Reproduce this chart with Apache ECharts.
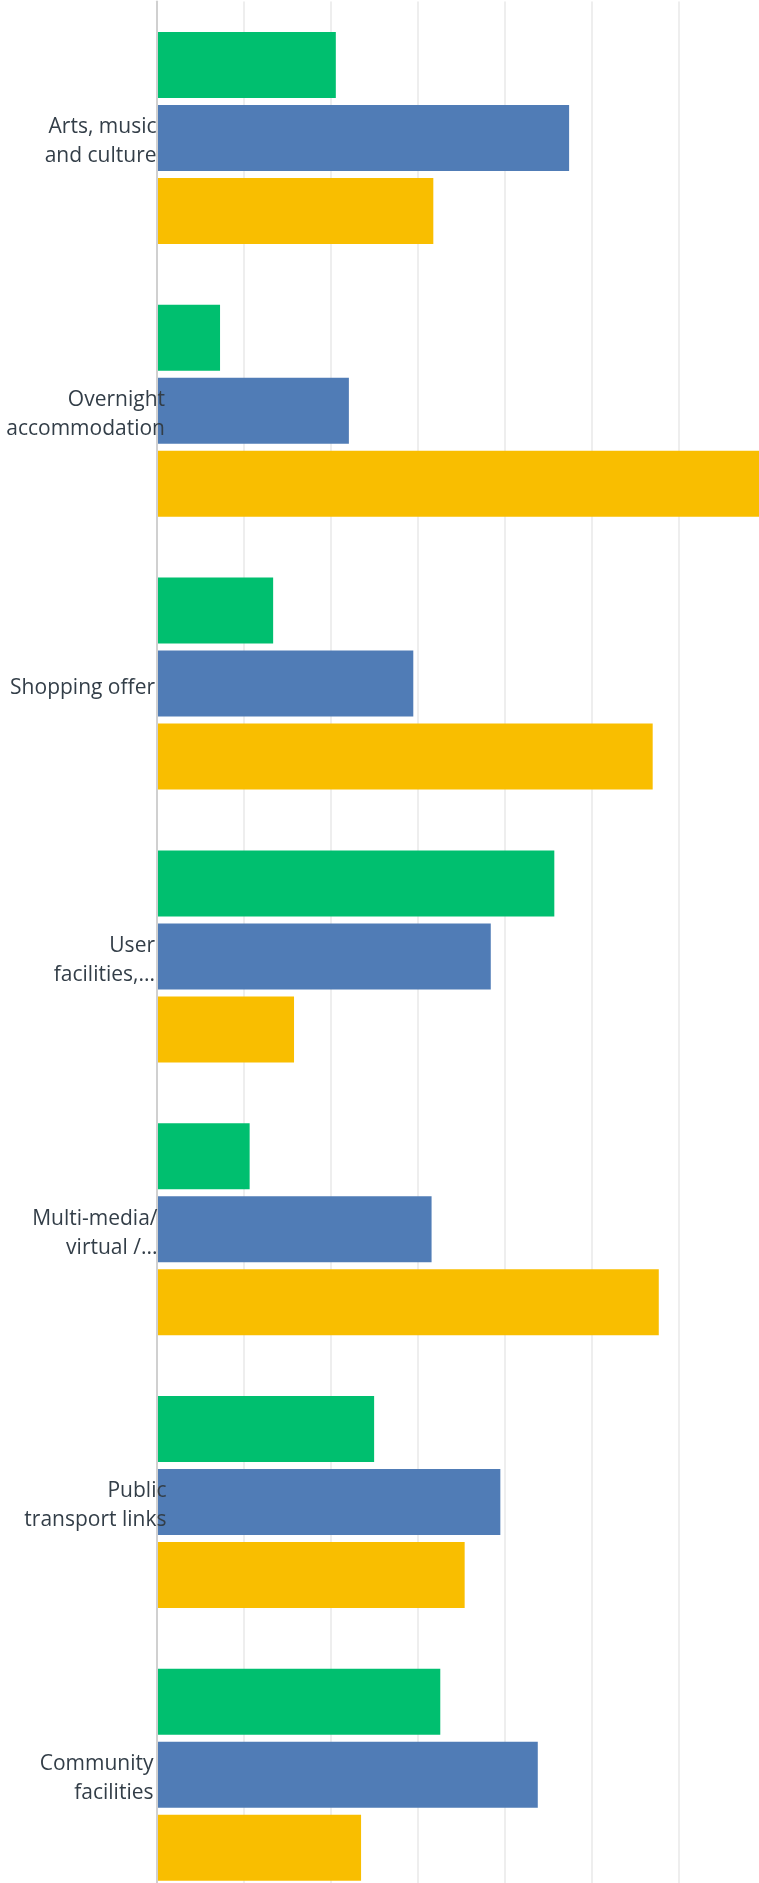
<!DOCTYPE html>
<html>
<head>
<meta charset="utf-8">
<script src="https://cdn.jsdelivr.net/npm/echarts@6/dist/echarts.min.js"></script>
<style>
  html, body { margin: 0; padding: 0; background: #ffffff; }
  #chart { width: 759px; height: 1883px; }
</style>
</head>
<body>
<div id="chart"></div>
<script>
// Categories (top to bottom)
const categories = [
  'Arts, music\nand culture',
  'Overnight\naccommodation',
  'Shopping offer',
  'User\nfacilities,...',
  'Multi-media/\nvirtual /...',
  'Public\ntransport links',
  'Community\nfacilities'
];
// Right padding (px) per label, to match the reference label placement
const labelPadRight = [10, 1.5, 11.5, 11.5, 9, 0, 13];

// Series values (percent)
const seriesNames = ['Response 1', 'Response 2', 'Response 3'];
const greenValues  = [20.6,  7.3, 13.4, 45.7, 10.7, 25.0, 32.6];
const blueValues   = [47.4, 22.1, 29.5, 38.4, 31.6, 39.5, 43.8];
const yellowValues = [31.8, 70.6, 57.0, 15.8, 57.7, 35.4, 23.5];

const colors = ['#00bf6f', '#507cb6', '#f9be00'];
const LINE_H = 29;
const V_SHIFT = 4;

const chart = echarts.init(document.getElementById('chart'), null, { renderer: 'canvas' });

const yData = categories.map((c, i) => {
  const nLines = c.split('\n').length;
  return {
    value: c,
    textStyle: {
      verticalAlign: 'top',
      padding: [V_SHIFT - nLines * LINE_H / 2, labelPadRight[i], 0, 0]
    }
  };
});

const makeSeries = (name, data, color) => ({
  name: name,
  type: 'bar',
  data: data,
  barWidth: 66,
  barGap: '10.6%',
  itemStyle: { color: color },
  silent: true,
  z: 2
});

chart.setOption({
  animation: false,
  backgroundColor: '#ffffff',
  grid: {
    left: 156.5,
    top: 1.6,
    width: 696.4,
    height: 1909.6,
    containLabel: false,
    outerBoundsMode: 'none'
  },
  xAxis: {
    type: 'value',
    min: 0,
    max: 80,
    interval: 10,
    axisLabel: { show: false },
    axisTick: { show: false },
    axisLine: { show: false },
    splitLine: { show: true, lineStyle: { color: '#eeeeee', width: 2 } }
  },
  yAxis: {
    type: 'category',
    inverse: true,
    data: yData,
    z: 10,
    axisTick: { show: false },
    axisLine: { show: true, lineStyle: { color: '#d0d0d0', width: 2 } },
    axisLabel: {
      margin: -10,
      color: '#333e48',
      fontFamily: '"Open Sans", sans-serif',
      fontSize: 21,
      lineHeight: LINE_H,
      align: 'right',
      interval: 0
    },
    splitLine: { show: false }
  },
  series: [
    makeSeries(seriesNames[0], greenValues, colors[0]),
    makeSeries(seriesNames[1], blueValues, colors[1]),
    makeSeries(seriesNames[2], yellowValues, colors[2])
  ]
});
</script>
</body>
</html>
